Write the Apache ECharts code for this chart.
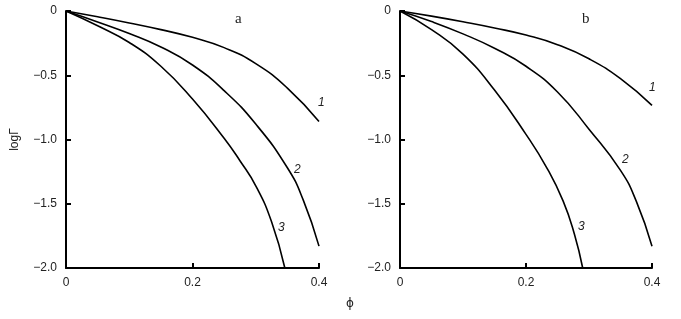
<!DOCTYPE html>
<html><head><meta charset="utf-8">
<script src="https://cdn.jsdelivr.net/npm/echarts@6/dist/echarts.min.js"></script>
<style>html,body{margin:0;padding:0;background:#fff}#c{width:681px;height:319px}</style>
</head><body><div id="c"></div>
<script>
// Panel a
const a1 = [[0,0],[0.05,-0.045],[0.1,-0.093],[0.15,-0.145],[0.2,-0.205],[0.25,-0.285],[0.3,-0.41],[0.35,-0.60],[0.4,-0.86]];
const a2 = [[0,0],[0.05,-0.085],[0.1,-0.175],[0.15,-0.28],[0.2,-0.42],[0.25,-0.62],[0.3,-0.88],[0.35,-1.22],[0.375,-1.47],[0.4,-1.83]];
const a3 = [[0,0],[0.05,-0.115],[0.1,-0.245],[0.15,-0.43],[0.2,-0.685],[0.25,-0.99],[0.275,-1.165],[0.3,-1.36],[0.325,-1.64],[0.346,-2.0]];
// Panel b
const b1 = [[0,0],[0.05,-0.04],[0.1,-0.084],[0.15,-0.132],[0.2,-0.187],[0.25,-0.262],[0.3,-0.372],[0.35,-0.527],[0.4,-0.735]];
const b2 = [[0,0],[0.05,-0.082],[0.1,-0.178],[0.15,-0.29],[0.2,-0.43],[0.25,-0.63],[0.3,-0.92],[0.35,-1.24],[0.375,-1.48],[0.4,-1.83]];
const b3 = [[0,0],[0.05,-0.145],[0.1,-0.335],[0.15,-0.615],[0.2,-0.96],[0.233,-1.22],[0.259,-1.48],[0.277,-1.74],[0.29,-2.0]];
const xTicks = [0, 0.2, 0.4];
const yTicks = [0, -0.5, -1.0, -1.5, -2.0];
const panelLabels = ['a', 'b'];
const curveLabels = ['1', '2', '3'];

const font = 'Liberation Sans, Arial, sans-serif';
const fmtX = v => { const t = xTicks.find(x => Math.abs(x - v) < 1e-9); return t === undefined ? '' : (t === 0 ? '0' : t.toFixed(1)); };
const fmtY = v => { const t = yTicks.find(y => Math.abs(y - v) < 1e-9); return t === undefined ? '' : (t === 0 ? '0' : '\u2212' + Math.abs(t).toFixed(1)); };

function xAxis(i) {
  return {
    type: 'value', gridIndex: i, min: 0, max: 0.4, interval: 0.2,
    axisLine: {show: true, onZero: false, lineStyle: {color: '#000', width: 2}},
    axisTick: {show: true, inside: true, length: 5, lineStyle: {color: '#000', width: 2}},
    axisLabel: {formatter: fmtX, color: '#222', fontSize: 12, fontFamily: font, margin: 9},
    splitLine: {show: false}
  };
}
function yAxis(i) {
  return {
    type: 'value', gridIndex: i, min: -2, max: 0, interval: 0.5,
    axisLine: {show: true, onZero: false, lineStyle: {color: '#000', width: 2}},
    axisTick: {show: true, inside: true, length: 5, lineStyle: {color: '#000', width: 2}},
    axisLabel: {formatter: fmtY, color: '#222', fontSize: 12, fontFamily: font, margin: 9},
    splitLine: {show: false},
    name: i === 0 ? 'log\u0393' : '', nameLocation: 'middle', nameGap: 45, nameRotate: 90,
    nameTextStyle: {color: '#222', fontSize: 12, fontFamily: font}
  };
}
function line(data, i) {
  return {type: 'line', xAxisIndex: i, yAxisIndex: i, data: data, showSymbol: false, smooth: 0.5,
    lineStyle: {color: '#000', width: 1.6}, silent: true, animation: false};
}
const labelStyle = {fontFamily: font, fontSize: 12, fontStyle: 'italic', fill: '#222'};
const chart = echarts.init(document.getElementById('c'), null, {renderer: 'canvas'});
chart.setOption({
  animation: false,
  backgroundColor: '#fff',
  grid: [
    {left: 66, top: 11, width: 253, height: 257},
    {left: 400, top: 11, width: 252, height: 257}
  ],
  xAxis: [xAxis(0), xAxis(1)],
  yAxis: [yAxis(0), yAxis(1)],
  series: [line(a1,0), line(a2,0), line(a3,0), line(b1,1), line(b2,1), line(b3,1)],
  graphic: [
    {type: 'text', left: 235, top: 12, style: {text: panelLabels[0], fontFamily: 'Liberation Serif, serif', fontSize: 15, fill: '#222'}},
    {type: 'text', left: 582, top: 12, style: {text: panelLabels[1], fontFamily: 'Liberation Serif, serif', fontSize: 15, fill: '#222'}},
    {type: 'text', left: 318, top: 97, style: Object.assign({text: curveLabels[0]}, labelStyle)},
    {type: 'text', left: 294, top: 164, style: Object.assign({text: curveLabels[1]}, labelStyle)},
    {type: 'text', left: 278, top: 222, style: Object.assign({text: curveLabels[2]}, labelStyle)},
    {type: 'text', left: 649, top: 82, style: Object.assign({text: curveLabels[0]}, labelStyle)},
    {type: 'text', left: 622, top: 154, style: Object.assign({text: curveLabels[1]}, labelStyle)},
    {type: 'text', left: 578, top: 221, style: Object.assign({text: curveLabels[2]}, labelStyle)},
    {type: 'text', left: 346, top: 298, style: {text: '\u03D5', fontFamily: 'DejaVu Sans, sans-serif', fontSize: 12, fill: '#222'}}
  ]
});
</script></body></html>
